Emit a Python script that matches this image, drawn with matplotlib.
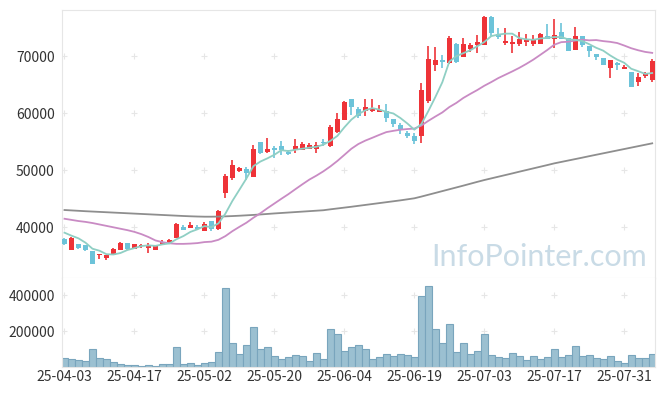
import numpy as np
import pandas as pd
import matplotlib
matplotlib.use('Agg')
from matplotlib import pyplot as plt

plt.rcParams['font.family'] = ['Noto Sans CJK KR', 'DejaVu Sans']

# 일봉 데이터 (시가, 고가, 저가, 종가)
open_ = [38000, 36100, 37100, 36900, 35850, 35150, 34700, 35150, 36100, 37250,
         36250, 36800, 36450, 36100, 37000, 37500, 38200, 40100, 39950, 40100,
         39400, 41100, 39700, 45950, 48700, 49900, 50200, 48850, 54950, 53200,
         53900, 54250, 53200, 53550, 53600, 53750, 53750, 54950, 54250, 56750,
         58850, 62400, 60700, 60300, 60300, 60250, 60300, 58950, 57900, 56500,
         56050, 56000, 62200, 68500, 69300, 68700, 72150, 69900, 71150, 72000,
         72000, 76900, 73850, 72300, 72150, 72100, 72450, 72100, 72100, 73500,
         73050, 74150, 73150, 71050, 73500, 71750, 70350, 69600, 67950, 68700,
         67800, 67200, 65450, 66550, 65850]
high = [38050, 38250, 37150, 36950, 35900, 35400, 35200, 36450, 37350, 37300,
        37150, 37000, 37200, 36850, 37700, 38000, 40700, 40450, 40850, 40400,
        40850, 41150, 43000, 49300, 51800, 50650, 50650, 54400, 55000, 55600,
        54250, 55100, 53550, 55400, 54950, 54750, 54950, 55400, 58000, 60050,
        62100, 62450, 61100, 62550, 62400, 61400, 61550, 59000, 58350, 56900,
        56450, 65200, 71750, 71500, 70150, 73500, 72200, 73100, 72200, 73700,
        77050, 76950, 74850, 74850, 73550, 74250, 73850, 73700, 74100, 75550,
        76400, 75700, 73200, 75150, 73550, 71800, 70400, 69650, 69350, 69000,
        68450, 67250, 66950, 67250, 69450]
low = [36850, 36050, 36150, 35900, 33500, 34450, 34250, 35100, 36050, 36100,
       36200, 36300, 35450, 36050, 36950, 37200, 38150, 39550, 39900, 39450,
       39350, 39300, 39500, 45050, 48300, 49650, 48300, 48800, 52900, 53100,
       52200, 52700, 52700, 52950, 53550, 53750, 53050, 54250, 54000, 56600,
       58800, 59650, 59100, 59500, 60250, 60200, 58500, 57650, 56350, 55600,
       54550, 54700, 61700, 67450, 67850, 68650, 68850, 69850, 70750, 70600,
       71950, 73500, 72900, 71900, 70600, 71750, 71750, 71750, 72050, 73000,
       71350, 73000, 70850, 71000, 71500, 69900, 69300, 68350, 66100, 67550,
       67750, 64600, 64800, 66100, 65500]
close = [37100, 38200, 36450, 35950, 33550, 35350, 35150, 36200, 37250, 36200,
         37000, 36950, 36800, 36800, 37500, 37850, 40600, 39600, 40450, 39750,
         40650, 39700, 42900, 49000, 50900, 50400, 49550, 53700, 53050, 53700,
         53550, 53550, 52900, 54250, 54600, 54400, 54400, 54700, 57600, 58950,
         61900, 61150, 59500, 61000, 60800, 60600, 59200, 58100, 57050, 56000,
         55150, 64050, 69500, 69300, 69000, 73200, 68900, 72100, 71850, 72500,
         76900, 74100, 73400, 72700, 72500, 73000, 73000, 73000, 73850, 73050,
         73700, 73050, 70900, 73500, 72000, 70900, 69900, 68400, 69300, 68350,
         68150, 64650, 66250, 66950, 69100]

# 거래량
volume = [50000, 44000, 39000, 33000, 100000, 50000, 44000, 28000, 17000, 11000,
          11000, 5000, 11000, 5000, 17000, 17000, 111000, 17000, 22000, 11000,
          22000, 28000, 83000, 439000, 133000, 72000, 122000, 222000, 100000, 111000,
          61000, 44000, 56000, 67000, 61000, 33000, 78000, 44000, 211000, 183000,
          89000, 111000, 122000, 100000, 44000, 56000, 72000, 61000, 72000, 67000,
          56000, 394000, 450000, 211000, 133000, 239000, 83000, 133000, 72000, 89000,
          183000, 67000, 56000, 50000, 78000, 61000, 39000, 61000, 44000, 56000,
          100000, 56000, 67000, 117000, 61000, 67000, 50000, 44000, 61000, 33000,
          22000, 67000, 50000, 50000, 72000]

# 구간 이전 데이터가 필요한 이동평균 앞부분
ma5_head = [39060, 38535, 38068, 37309]
ma20_head = [41500, 41300, 41100, 40950, 40750, 40500, 40250, 40000, 39750, 39500,
             39200, 38800, 38300, 37700, 37400, 37200, 37100, 37100, 37150]
ma120 = [43030, 42960, 42890, 42820, 42760, 42700, 42640, 42580, 42520, 42460,
         42400, 42340, 42280, 42220, 42160, 42100, 42040, 41980, 41930, 41890,
         41860, 41860, 41880, 41920, 41970, 42030, 42100, 42170, 42250, 42340,
         42430, 42510, 42590, 42670, 42750, 42830, 42910, 42990, 43150, 43300,
         43450, 43600, 43760, 43920, 44080, 44240, 44400, 44560, 44720, 44900,
         45080, 45380, 45700, 46020, 46340, 46660, 46980, 47300, 47630, 47960,
         48280, 48570, 48860, 49150, 49440, 49740, 50030, 50320, 50610, 50900,
         51200, 51450, 51700, 51950, 52200, 52460, 52710, 52960, 53210, 53460,
         53710, 53960, 54210, 54460, 54710]

tick_pos = [0, 10, 20, 30, 40, 50, 60, 70, 80]
tick_labels = ['25-04-03', '25-04-17', '25-05-02', '25-05-20', '25-06-04',
               '25-06-19', '25-07-03', '25-07-17', '25-07-31']

o = np.array(open_)
h = np.array(high)
l = np.array(low)
c = np.array(close)
x = np.arange(len(c))

ma5 = pd.Series(c).rolling(5).mean().to_numpy()
ma5[:4] = ma5_head
ma20 = pd.Series(c).rolling(20).mean().to_numpy()
ma20[:19] = ma20_head

up_col = '#ee3338'
dn_col = '#6cc3d9'
cols = np.where(c >= o, up_col, dn_col)

fig = plt.figure(figsize=(6.65, 3.96), dpi=100)
ax = fig.add_axes([61.7 / 665, 1 - 278.3 / 396, (655 - 61.7) / 665, 268.3 / 396])
axv = fig.add_axes([61.7 / 665, 1 - 367.3 / 396, (655 - 61.7) / 665, 89.3 / 396])

# 캔들
ax.vlines(x, l, h, colors=cols, linewidth=1.2, zorder=2)
body = np.maximum(np.abs(c - o), 60)
ax.bar(x, body, bottom=np.minimum(o, c), width=0.75, color=cols, linewidth=0, zorder=3)

# 이동평균
ax.plot(x, ma120, color='#8e8e8e', linewidth=1.3, zorder=4)
ax.plot(x, ma20, color='#c98bc4', linewidth=1.3, zorder=4)
ax.plot(x, ma5, color='#8fcfc4', linewidth=1.3, zorder=5)

ax.text(0.8045, 0.046, 'InfoPointer.com', transform=ax.transAxes, fontsize=22,
        color='#c9dbe6', ha='center', va='baseline', family='Lato', zorder=1)

ax.set_xlim(-0.4, 84.4)
ax.set_ylim(31070, 78060)
ax.set_yticks([40000, 50000, 60000, 70000])
ax.set_xticks([])

# 거래량
axv.bar(x, volume, width=0.95, color='#9bc0d1', edgecolor='#79a5bd', linewidth=0.8)
axv.set_xlim(-0.4, 84.4)
axv.set_ylim(0, 496000)
axv.set_yticks([200000, 400000])
axv.set_xticks(tick_pos)
axv.set_xticklabels(tick_labels)

# 격자 대신 + 표시
for a, ys in [(ax, [40000, 50000, 60000, 70000]), (axv, [200000, 400000])]:
    gx, gy = np.meshgrid(tick_pos, ys)
    a.scatter(gx.ravel(), gy.ravel(), marker='+', s=14, color='#e6e6e6', linewidths=0.8, zorder=0)
    a.tick_params(length=0, labelsize=10, colors='#333333', pad=5)
    for s in a.spines.values():
        s.set_color('#e6e6e6')
axv.spines['top'].set_visible(False)
axv.tick_params(axis='x', pad=2)

fig.savefig('out.png', dpi=100)
